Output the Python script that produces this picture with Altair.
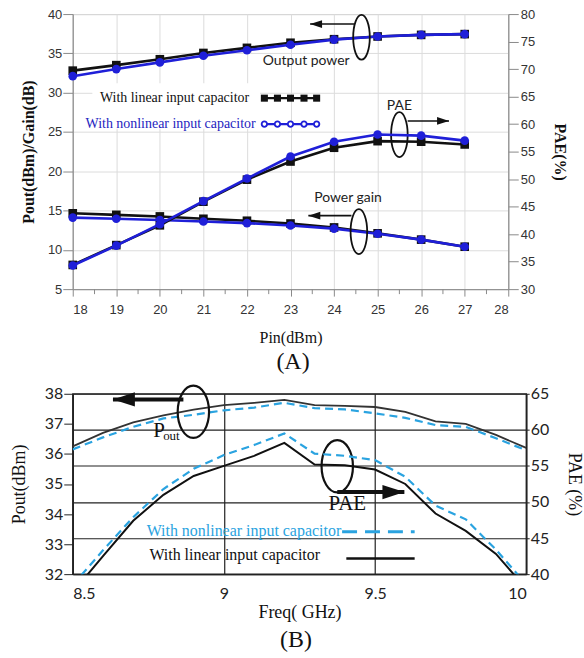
import altair as alt
import pandas as pd

# ---------------- Panel (A) data ----------------
pin = [18, 19, 20, 21, 22, 23, 24, 25, 26, 27]
pout_lin = [32.8, 33.5, 34.25, 35.05, 35.7, 36.35, 36.8, 37.15, 37.35, 37.45]
pout_nl = [32.1, 33.0, 33.85, 34.7, 35.4, 36.1, 36.75, 37.15, 37.35, 37.45]
gain_lin = [14.65, 14.45, 14.25, 13.95, 13.7, 13.35, 12.85, 12.1, 11.3, 10.4]
gain_nl = [14.1, 13.95, 13.8, 13.6, 13.4, 13.1, 12.7, 12.05, 11.3, 10.4]
pae_lin = [34.4, 38.0, 41.6, 45.9, 49.9, 53.2, 55.7, 56.9, 56.8, 56.3]
pae_nl = [34.3, 37.9, 41.8, 46.0, 50.1, 54.1, 56.8, 58.1, 57.9, 57.0]
pin_ticks = list(range(18, 29))
pin_minor = [18.5, 19.5, 20.5, 21.5, 22.5, 23.5, 24.5, 25.5, 26.5, 27.5]
left_ticks_A = [5, 10, 15, 20, 25, 30, 35, 40]
right_ticks_A = [30, 35, 40, 45, 50, 55, 60, 65, 70, 75, 80]

# ---------------- Panel (B) data ----------------
freq = [8.5, 8.6, 8.7, 8.8, 8.9, 9.0, 9.1, 9.2, 9.3, 9.4, 9.5, 9.6, 9.7, 9.8, 9.9, 10.0]
poutB_lin = [36.25, 36.7, 37.05, 37.28, 37.47, 37.62, 37.7, 37.8, 37.62, 37.6, 37.56, 37.4, 37.08, 37.0, 36.63, 36.2]
poutB_nl = [36.15, 36.55, 36.9, 37.18, 37.3, 37.45, 37.54, 37.7, 37.52, 37.48, 37.35, 37.2, 36.96, 36.9, 36.52, 36.12]
paeB_lin = [37.5, 42.5, 47.4, 51.0, 53.6, 55.0, 56.4, 58.2, 55.2, 55.1, 54.5, 52.5, 48.4, 46.0, 42.8, 38.0]
paeB_nl = [38.5, 43.3, 47.9, 51.8, 54.6, 56.5, 57.9, 59.5, 56.7, 56.4, 55.8, 53.5, 49.5, 47.6, 43.4, 38.6]
freq_ticks = [8.5, 9, 9.5, 10]
left_ticks_B = [32, 33, 34, 35, 36, 37, 38]
right_ticks_B = [40, 45, 50, 55, 60, 65]

SERIF = "Liberation Serif"
SANS = "Liberation Sans"
CAL = "Lato"
BLK = "#111111"
BLUE = "#1f1fd8"
LBLUE = "#2aa3e0"


def ellipse_path(a):
    k = 0.5523
    ak = a * k
    return (f"M0,-1 C{ak:.3f},-1 {a:.3f},{-k} {a:.3f},0 C{a:.3f},{k} {ak:.3f},1 0,1 "
            f"C{-ak:.3f},1 {-a:.3f},{k} {-a:.3f},0 C{-a:.3f},{-k} {-ak:.3f},-1 0,-1 Z")


HEAD_L = "M0,0 L2,-0.65 L2,0.65 Z"
HEAD_R = "M0,0 L-2,-0.65 L-2,0.65 Z"

# ======================= PANEL A =======================
WA, HA = 437, 276
xA = alt.X("Pin:Q", scale=alt.Scale(domain=[18, 28], nice=False),
           axis=alt.Axis(values=pin_ticks, title="Pin(dBm)", grid=True, gridColor="#dcdcdc",
                         domainColor="#8a8a8a", tickColor="#8a8a8a", tickSize=7,
                         labelFont=SANS, labelFontSize=13, labelColor="#333", labelPadding=7,
                         titleFont=SERIF, titleFontSize=16, titleFontWeight="normal",
                         titleColor="#111", titlePadding=14))
yA = alt.Y("val:Q", scale=alt.Scale(domain=[5, 40], nice=False),
           axis=alt.Axis(values=left_ticks_A, title="Pout(dBm)/Gain(dB)", grid=True, gridColor="#dcdcdc",
                         domainColor="#8a8a8a", tickColor="#8a8a8a", tickSize=10,
                         labelFont=SANS, labelFontSize=13, labelColor="#333", labelPadding=1,
                         titleFont=SERIF, titleFontSize=16, titleFontWeight="bold",
                         titleColor="#111", titlePadding=11))
yA_r = alt.Y("pae:Q", scale=alt.Scale(domain=[30, 80], nice=False),
             axis=alt.Axis(orient="right", values=right_ticks_A, title="PAE(%)", grid=False,
                           domainColor="#8a8a8a", tickColor="#8a8a8a", tickSize=10,
                           labelFont=SANS, labelFontSize=13, labelColor="#333", labelPadding=2,
                           titleFont=SERIF, titleFontSize=16, titleFontWeight="bold",
                           titleColor="#111", titlePadding=17))

dfA_lin = pd.concat([pd.DataFrame({"Pin": pin, "val": pout_lin, "q": "pout"}),
                     pd.DataFrame({"Pin": pin, "val": gain_lin, "q": "gain"})])
dfA_nl = pd.concat([pd.DataFrame({"Pin": pin, "val": pout_nl, "q": "pout"}),
                    pd.DataFrame({"Pin": pin, "val": gain_nl, "q": "gain"})])
dfA_pae_lin = pd.DataFrame({"Pin": pin, "pae": pae_lin})
dfA_pae_nl = pd.DataFrame({"Pin": pin, "pae": pae_nl})

box_A = pd.DataFrame({"Pin": [18.45], "Pin2": [22.3], "val": [31.2], "val2": [25.4]})
minor_A = pd.DataFrame({"Pin": pin_minor})
txt_A = pd.DataFrame({"Pin": [23.36, 25.5, 24.32], "val": [34.08, 28.3, 16.54],
                      "t": ["Output power", "PAE", "Power gain"]})
ell_A = pd.DataFrame({"Pin": [24.63, 25.5, 24.57], "val": [37.05, 24.66, 12.32]})
arrL_A = pd.DataFrame({"Pin": [23.45, 23.41], "Pin2": [24.46, 24.40], "val": [38.73, 14.35]})
arrR_A = pd.DataFrame({"Pin": [26.64], "Pin2": [25.69], "val": [26.4]})
leg_txt_A = pd.DataFrame({"Pin": [22.05, 22.2], "val": [29.3, 26.0],
                          "t": ["With linear input capacitor", "With nonlinear input capacitor"],
                          "c": [BLK, "#2424c0"]})
leg_line_A = pd.DataFrame({"Pin": [22.35, 22.35], "Pin2": [23.67, 23.67], "val": [29.3, 26.0],
                           "c": [BLK, BLUE]})
leg_mk_lin = pd.DataFrame({"Pin": [22.40, 22.70, 23.00, 23.31, 23.60], "val": [29.3] * 5})
leg_mk_nl = pd.DataFrame({"Pin": [22.40, 22.70, 23.00, 23.31, 23.60], "val": [26.0] * 5})
lab_A = pd.DataFrame({"t": ["(A)"]})

leftA = alt.layer(
    alt.Chart(box_A).mark_rect(color="white").encode(x=xA, x2="Pin2:Q", y=yA, y2="val2:Q"),
    alt.Chart(minor_A).mark_rule(color="#8a8a8a").encode(x=xA, y=alt.value(HA), y2=alt.value(HA + 5)),
    alt.Chart(dfA_lin).mark_line(color=BLK, strokeWidth=2.6).encode(x=xA, y=yA, detail="q:N"),
    alt.Chart(dfA_lin).mark_point(shape="square", filled=True, color=BLK, size=75, opacity=1).encode(x=xA, y=yA),
    alt.Chart(dfA_nl).mark_line(color=BLUE, strokeWidth=2.6).encode(x=xA, y=yA, detail="q:N"),
    alt.Chart(dfA_nl).mark_point(shape="circle", filled=True, color=BLUE, size=75, opacity=1).encode(x=xA, y=yA),
    alt.Chart(txt_A).mark_text(font=CAL, fontSize=14, color="#222").encode(x=xA, y=yA, text="t:N"),
    alt.Chart(ell_A).mark_point(shape=ellipse_path(0.37), size=2025, filled=False, color=BLK,
                                strokeWidth=1.8, opacity=1).encode(x=xA, y=yA),
    alt.Chart(arrL_A).mark_rule(color=BLK, strokeWidth=1.6).encode(x=xA, x2="Pin2:Q", y=yA),
    alt.Chart(arrL_A).mark_point(shape=HEAD_L, size=144, filled=True, color=BLK, opacity=1).encode(x=xA, y=yA),
    alt.Chart(arrR_A).mark_rule(color=BLK, strokeWidth=1.6).encode(x=xA, x2="Pin2:Q", y=yA),
    alt.Chart(arrR_A).mark_point(shape=HEAD_R, size=144, filled=True, color=BLK, opacity=1).encode(x=xA, y=yA),
    alt.Chart(leg_txt_A).mark_text(font=SERIF, fontSize=14, align="right").encode(
        x=xA, y=yA, text="t:N", color=alt.Color("c:N", scale=None)),
    alt.Chart(leg_line_A).mark_rule(strokeWidth=2.4).encode(
        x=xA, x2="Pin2:Q", y=yA, color=alt.Color("c:N", scale=None)),
    alt.Chart(leg_mk_lin).mark_point(shape="square", filled=True, color=BLK, size=50, opacity=1).encode(x=xA, y=yA),
    alt.Chart(leg_mk_nl).mark_point(shape="circle", filled=True, fill="white", stroke=BLUE, strokeWidth=1.8,
                                    size=30, opacity=1).encode(x=xA, y=yA),
    alt.Chart(lab_A).mark_text(font=SERIF, fontSize=24, color="#111").encode(
        x=alt.value(221), y=alt.value(349), text="t:N"),
)

rightA = alt.layer(
    alt.Chart(dfA_pae_lin).mark_line(color=BLK, strokeWidth=2.6).encode(x=xA, y=yA_r),
    alt.Chart(dfA_pae_lin).mark_point(shape="square", filled=True, color=BLK, size=75, opacity=1).encode(x=xA, y=yA_r),
    alt.Chart(dfA_pae_nl).mark_line(color=BLUE, strokeWidth=2.6).encode(x=xA, y=yA_r),
    alt.Chart(dfA_pae_nl).mark_point(shape="circle", filled=True, color=BLUE, size=75, opacity=1).encode(x=xA, y=yA_r),
)

A = alt.layer(leftA, rightA).resolve_scale(y="independent").properties(
    width=WA, height=HA, view=alt.ViewBackground(stroke="#8a8a8a", strokeWidth=1))

# ======================= PANEL B =======================
WB, HB = 455, 181
xB = alt.X("f:Q", scale=alt.Scale(domain=[8.5, 10], nice=False),
           axis=alt.Axis(values=freq_ticks, format="~g", title="Freq( GHz)", grid=True, gridColor="#222",
                         gridWidth=1.2, domainColor="#222", domainWidth=1.4, ticks=False,
                         labelFont=CAL, labelFontSize=16, labelColor="#222", labelPadding=11,
                         titleFont=SERIF, titleFontSize=18, titleFontWeight="normal",
                         titleColor="#111", titlePadding=2))
yB = alt.Y("pv:Q", scale=alt.Scale(domain=[32, 38], nice=False),
           axis=alt.Axis(values=left_ticks_B, title="Pout(dBm)", grid=False,
                         domainColor="#222", domainWidth=1.4, tickColor="#222", tickSize=9,
                         labelFont=CAL, labelFontSize=16, labelColor="#222", labelPadding=1,
                         titleFont=SERIF, titleFontSize=18, titleFontWeight="normal",
                         titleColor="#111", titlePadding=16))
yB_r = alt.Y("pae:Q", scale=alt.Scale(domain=[40, 65], nice=False),
             axis=alt.Axis(orient="right", values=right_ticks_B, title="PAE (%)", grid=True, gridColor="#222",
                           gridWidth=1.2, domainColor="#222", domainWidth=1.4, tickColor="#222", tickSize=3,
                           labelFont=CAL, labelFontSize=16, labelColor="#222", labelPadding=1,
                           titleFont=SERIF, titleFontSize=18, titleFontWeight="normal",
                           titleColor="#111", titlePadding=16))

dfB_lin = pd.DataFrame({"f": freq, "pv": poutB_lin})
dfB_nl = pd.DataFrame({"f": freq, "pv": poutB_nl})
dfB_pae_lin = pd.DataFrame({"f": freq, "pae": paeB_lin})
dfB_pae_nl = pd.DataFrame({"f": freq, "pae": paeB_nl})

ell_B = pd.DataFrame({"f": [8.899, 9.375], "pv": [37.40, 35.59]})
arrL_B = pd.DataFrame({"f": [8.633], "f2": [8.866], "pv": [37.81]})
arrR_B = pd.DataFrame({"f": [9.597], "f2": [9.375], "pv": [34.73]})
pae_txt_B = pd.DataFrame({"f": [9.408], "pv": [34.33], "t": ["PAE"]})
p_txt_B = pd.DataFrame({"f": [8.766], "pv": [36.57], "t": ["P"]})
sub_txt_B = pd.DataFrame({"f": [8.799], "pv": [36.47], "t": ["out"]})
leg_txt_B = pd.DataFrame({"f": [9.388, 9.318], "pv": [33.44, 32.62],
                          "t": ["With nonlinear input capacitor", "With linear input capacitor"],
                          "c": [LBLUE, BLK]})
leg_dash_B = pd.DataFrame({"f": [9.391], "f2": [9.631], "pv": [33.41]})
leg_solid_B = pd.DataFrame({"f": [9.405], "f2": [9.631], "pv": [32.52]})
lab_B = pd.DataFrame({"t": ["(B)"]})

leftB = alt.layer(
    alt.Chart(dfB_nl).mark_line(color=LBLUE, strokeWidth=2.2, strokeDash=[8, 5], clip=True).encode(x=xB, y=yB),
    alt.Chart(dfB_lin).mark_line(color="#333", strokeWidth=1.8, clip=True).encode(x=xB, y=yB),
    alt.Chart(ell_B).mark_point(shape=ellipse_path(0.6), size=2756, filled=False, color=BLK,
                                strokeWidth=2.2, opacity=1).encode(x=xB, y=yB),
    alt.Chart(arrL_B).mark_rule(color=BLK, strokeWidth=4).encode(x=xB, x2="f2:Q", y=yB),
    alt.Chart(arrL_B).mark_point(shape=HEAD_L, size=484, filled=True, color=BLK, opacity=1).encode(x=xB, y=yB),
    alt.Chart(arrR_B).mark_rule(color=BLK, strokeWidth=4).encode(x=xB, x2="f2:Q", y=yB),
    alt.Chart(arrR_B).mark_point(shape=HEAD_R, size=484, filled=True, color=BLK, opacity=1).encode(x=xB, y=yB),
    alt.Chart(pae_txt_B).mark_text(font=SERIF, fontSize=21, color="#111").encode(x=xB, y=yB, text="t:N"),
    alt.Chart(p_txt_B).mark_text(font=SERIF, fontSize=21, color="#111", align="left",
                                 baseline="alphabetic").encode(x=xB, y=yB, text="t:N"),
    alt.Chart(sub_txt_B).mark_text(font=SERIF, fontSize=13, color="#111", align="left",
                                   baseline="alphabetic").encode(x=xB, y=yB, text="t:N"),
    alt.Chart(leg_txt_B).mark_text(font=SERIF, fontSize=16, align="right").encode(
        x=xB, y=yB, text="t:N", color=alt.Color("c:N", scale=None)),
    alt.Chart(leg_dash_B).mark_rule(color=LBLUE, strokeWidth=3, strokeDash=[15, 8]).encode(x=xB, x2="f2:Q", y=yB),
    alt.Chart(leg_solid_B).mark_rule(color=BLK, strokeWidth=2.6).encode(x=xB, x2="f2:Q", y=yB),
    alt.Chart(lab_B).mark_text(font=SERIF, fontSize=24, color="#111").encode(
        x=alt.value(224), y=alt.value(247), text="t:N"),
)

rightB = alt.layer(
    alt.Chart(dfB_pae_nl).mark_line(color=LBLUE, strokeWidth=2.2, strokeDash=[8, 5], clip=True).encode(x=xB, y=yB_r),
    alt.Chart(dfB_pae_lin).mark_line(color="#111", strokeWidth=2.0, clip=True).encode(x=xB, y=yB_r),
)

B = alt.layer(leftB, rightB).resolve_scale(y="independent").properties(
    width=WB, height=HB, view=alt.ViewBackground(stroke="#222", strokeWidth=1.4))

chart = alt.concat(A, B, columns=1, spacing=5, bounds="full",
                   padding={"left": 9, "top": 6, "right": 0, "bottom": 0}).configure(background="white")

chart.save("out.html", embed_options={"renderer": "svg", "actions": False})
